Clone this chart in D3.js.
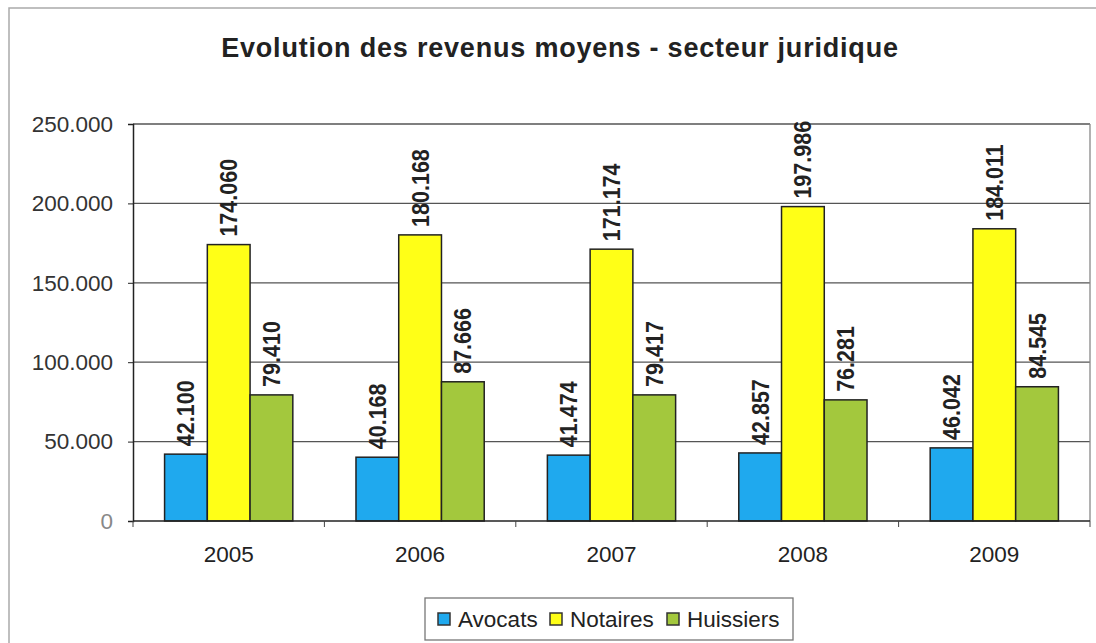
<!DOCTYPE html>
<html>
<head>
<meta charset="utf-8">
<script src="https://cdn.jsdelivr.net/npm/d3@7"></script>
<style>
  body { margin: 0; background: #fff; }
  svg { display: block; font-family: "Liberation Sans", Arial, sans-serif; }
</style>
</head>
<body>
<div id="chart"></div>
<script>
// Data
const years = ["2005", "2006", "2007", "2008", "2009"];
const seriesNames = ["Avocats", "Notaires", "Huissiers"];
const avocats = [42100, 40168, 41474, 42857, 46042];
const notaires = [174060, 180168, 171174, 197986, 184011];
const huissiers = [79410, 87666, 79417, 76281, 84545];
const yTicks = [0, 50000, 100000, 150000, 200000, 250000];

const colors = ["#1fa9ee", "#ffff17", "#a3c83d"];
const width = 1096, height = 643;
const margin = { top: 124, right: 6, bottom: 122, left: 133 };
const fontSize = 22.5;

const locale = d3.formatLocale({ decimal: ",", thousands: ".", grouping: [3], currency: ["", "€"] });
const fmt = locale.format(",d");

const table = years.map((y, i) => ({
  year: y,
  values: [avocats[i], notaires[i], huissiers[i]]
}));

const svg = d3.select("#chart").append("svg")
  .attr("width", width)
  .attr("height", height);

// outer chart frame
svg.append("rect")
  .attr("x", 9).attr("y", 8)
  .attr("width", width + 20).attr("height", height + 20)
  .attr("fill", "none")
  .attr("stroke", "#aaa")
  .attr("stroke-width", 1.5);

// title
svg.append("text")
  .attr("x", 560).attr("y", 57)
  .attr("text-anchor", "middle")
  .attr("font-size", 27)
  .attr("letter-spacing", 0.8)
  .attr("font-weight", "bold")
  .attr("fill", "#222")
  .text("Evolution des revenus moyens - secteur juridique");

const x0 = margin.left, x1 = width - margin.right;
const yTop = margin.top, yBot = height - margin.bottom;

const x = d3.scaleBand().domain(years).range([x0, x1])
  .paddingInner(0.33).paddingOuter(0.165);
const xs = d3.scaleBand().domain(seriesNames).range([0, x.bandwidth()]);
const y = d3.scaleLinear().domain([0, 250000]).range([yBot, yTop]);

// gridlines
svg.append("g")
  .selectAll("line")
  .data(yTicks.slice(1))
  .join("line")
  .attr("x1", x0).attr("x2", x1)
  .attr("y1", d => y(d)).attr("y2", d => y(d))
  .attr("stroke", "#555")
  .attr("stroke-width", 1.3);

// plot area border (right side)
svg.append("line")
  .attr("x1", x1).attr("x2", x1).attr("y1", yTop).attr("y2", yBot)
  .attr("stroke", "#888").attr("stroke-width", 1.3);

// bars
const groups = svg.append("g")
  .selectAll("g")
  .data(table)
  .join("g")
  .attr("transform", d => `translate(${x(d.year)},0)`);

groups.selectAll("rect")
  .data(d => d.values.map((v, i) => ({ name: seriesNames[i], v, i })))
  .join("rect")
  .attr("x", d => xs(d.name))
  .attr("y", d => y(d.v))
  .attr("width", xs.bandwidth())
  .attr("height", d => yBot - y(d.v))
  .attr("fill", d => colors[d.i])
  .attr("stroke", "#222")
  .attr("stroke-width", 1.5);

// data labels (rotated)
groups.selectAll("text")
  .data(d => d.values.map((v, i) => ({ name: seriesNames[i], v, i })))
  .join("text")
  .attr("transform", d => `translate(${xs(d.name) + xs.bandwidth() / 2},${y(d.v) - 8}) rotate(-90) scale(1,1.15)`)
  .attr("text-anchor", "start")
  .attr("dominant-baseline", "central")
  .attr("font-size", 21.5)
  .attr("font-weight", "bold")
  .attr("fill", "#222")
  .text(d => fmt(d.v));

// y axis
const yAxis = svg.append("g")
  .attr("transform", `translate(${x0},0)`)
  .call(d3.axisLeft(y).tickValues(yTicks).tickSize(5).tickPadding(15)
    .tickFormat(d => d === 0 ? "0" : fmt(d)));
yAxis.select(".domain").attr("stroke", "#222").attr("stroke-width", 1.5);
yAxis.selectAll(".tick line").attr("stroke", "#222");
yAxis.selectAll(".tick text")
  .attr("font-size", fontSize)
  .attr("fill", d => d === 0 ? "#888" : "#333")
  .attr("font-family", "Liberation Sans, Arial, sans-serif");

// x axis with ticks at category boundaries
const xAxis = svg.append("g")
  .attr("transform", `translate(0,${yBot})`);
xAxis.append("line")
  .attr("x1", x0).attr("x2", x1)
  .attr("stroke", "#222").attr("stroke-width", 1.5);
const step = x.step();
xAxis.selectAll("line.tk")
  .data(d3.range(years.length + 1))
  .join("line")
  .attr("class", "tk")
  .attr("x1", i => x0 + i * step).attr("x2", i => x0 + i * step)
  .attr("y1", 0).attr("y2", 6)
  .attr("stroke", "#444");
xAxis.selectAll("text")
  .data(years)
  .join("text")
  .attr("x", d => x(d) + x.bandwidth() / 2)
  .attr("y", 41)
  .attr("text-anchor", "middle")
  .attr("font-size", fontSize)
  .attr("fill", "#222")
  .text(d => d);

// legend
const legend = svg.append("g");
legend.append("rect")
  .attr("x", 425).attr("y", 598)
  .attr("width", 368).attr("height", 42)
  .attr("fill", "#fff")
  .attr("stroke", "#777")
  .attr("stroke-width", 1.3);
const legendX = [438, 550, 667];
const items = legend.selectAll("g")
  .data(seriesNames)
  .join("g")
  .attr("transform", (d, i) => `translate(${legendX[i]},619)`);
items.append("rect")
  .attr("x", 0).attr("y", -6)
  .attr("width", 12).attr("height", 12)
  .attr("fill", (d, i) => colors[i])
  .attr("stroke", "#333")
  .attr("stroke-width", 1.5);
items.append("text")
  .attr("x", 20).attr("y", 0)
  .attr("dominant-baseline", "central")
  .attr("font-size", fontSize)
  .attr("fill", "#222")
  .text(d => d);
</script>
</body>
</html>
